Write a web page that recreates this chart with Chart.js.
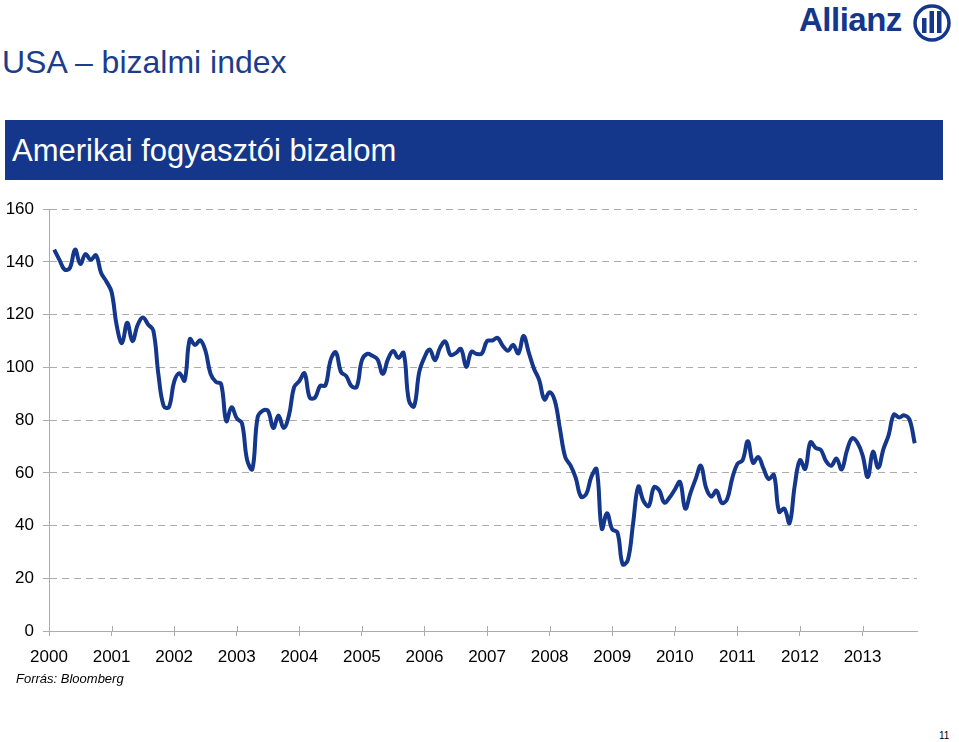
<!DOCTYPE html>
<html>
<head>
<meta charset="utf-8">
<script src="https://cdn.jsdelivr.net/npm/chart.js@4/dist/chart.umd.min.js"></script>
<style>
  body { margin: 0; width: 959px; height: 742px; background: #fff; position: relative; overflow: hidden; font-family: "Liberation Sans", Arial, sans-serif; }
  .title { position: absolute; left: 2px; top: 44px; font-size: 32px; color: #1c3c8c; white-space: nowrap; }
  .banner { position: absolute; left: 5px; top: 120px; width: 938px; height: 60px; background: #14378c; }
  .banner span { position: absolute; left: 7px; top: 13px; font-size: 31px; color: #fff; white-space: nowrap; }
  .logo { position: absolute; left: 799px; top: 1px; font-size: 33px; font-weight: bold; color: #14378c; letter-spacing: -0.5px; }
  .source { position: absolute; left: 16px; top: 671px; font-size: 13px; font-style: italic; color: #000; }
  .page { position: absolute; left: 939px; top: 730px; font-size: 10px; color: #000; }
  #wrap { position: absolute; left: 0; top: 190px; width: 935px; height: 485px; }
</style>
</head>
<body>
<div class="title">USA – bizalmi index</div>
<div class="logo">Allianz</div>
<svg style="position:absolute;left:910px;top:3px" width="46" height="42">
  <circle cx="22" cy="20" r="17" fill="none" stroke="#14378c" stroke-width="3.5"/>
  <rect x="12" y="15" width="4.5" height="15" fill="#14378c"/>
  <rect x="19.5" y="8" width="4.5" height="22" fill="#14378c"/>
  <rect x="27" y="8" width="4.5" height="22" fill="#14378c"/>
</svg>
<div class="banner"><span>Amerikai fogyasztói bizalom</span></div>
<div id="wrap"><canvas id="chart"></canvas></div>
<div class="source">Forrás: Bloomberg</div>
<div class="page">11</div>

<script>
// Conference Board consumer confidence, monthly, Jan 2000 - Oct 2013
const startYear = 2000;
const conf2000 = [144.7, 140.8, 137.1, 137.7, 144.7, 139.2, 143.0, 140.8, 142.5, 135.8, 132.6, 128.6];
const conf2001 = [115.7, 109.2, 116.9, 109.9, 116.1, 118.9, 116.3, 114.0, 97.0, 85.3, 84.9, 94.6];
const conf2002 = [97.8, 95.0, 110.7, 108.5, 110.3, 106.3, 97.4, 94.5, 93.7, 79.6, 84.9, 80.7];
const conf2003 = [78.8, 64.8, 61.4, 81.0, 83.6, 83.5, 77.0, 81.7, 77.0, 81.7, 92.5, 94.8];
const conf2004 = [97.7, 88.5, 88.5, 93.0, 93.1, 102.8, 105.7, 98.2, 96.7, 92.9, 92.6, 102.7];
const conf2005 = [105.1, 104.4, 103.0, 97.5, 103.1, 106.2, 103.6, 105.5, 87.5, 85.2, 98.3, 103.8];
const conf2006 = [106.8, 102.7, 107.5, 109.8, 104.7, 105.4, 107.0, 100.2, 105.9, 105.1, 105.3, 110.0];
const conf2007 = [110.2, 111.2, 108.2, 106.3, 108.5, 105.3, 111.9, 105.6, 99.5, 95.2, 87.8, 90.6];
const conf2008 = [87.3, 76.4, 65.9, 62.8, 58.1, 51.0, 51.9, 58.5, 61.4, 38.8, 44.7, 38.6];
const conf2009 = [37.4, 25.3, 26.9, 40.8, 54.8, 49.3, 47.4, 54.5, 53.4, 48.7, 50.6, 53.6];
const conf2010 = [56.5, 46.4, 52.3, 57.7, 62.7, 54.3, 51.0, 53.2, 48.6, 49.9, 57.8, 63.4];
const conf2011 = [64.8, 72.0, 63.8, 66.0, 61.7, 57.6, 59.2, 45.2, 46.4, 40.9, 55.2, 64.8];
const conf2012 = [61.5, 71.6, 69.5, 68.7, 64.4, 62.7, 65.4, 61.3, 68.4, 73.1, 71.5, 66.7];
const conf2013 = [58.4, 68.0, 61.9, 69.0, 74.3, 82.1, 81.0, 81.8, 80.2, 71.2];

const yearLabels = ['2000', '2001', '2002', '2003', '2004', '2005', '2006', '2007',
  '2008', '2009', '2010', '2011', '2012', '2013'];
const yTicks = [0, 20, 40, 60, 80, 100, 120, 140, 160];

const allValues = [].concat(conf2000, conf2001, conf2002, conf2003, conf2004, conf2005,
  conf2006, conf2007, conf2008, conf2009, conf2010, conf2011, conf2012, conf2013);

// month-end dates as fractional years
const points = allValues.map((v, i) => ({ x: startYear + (i + 1) / 12, y: v }));

const navy = '#14378c';
const gridGray = '#ababab';

// year tick marks also reach a little above the axis line, like the original
const crossTicks = {
  id: 'crossTicks',
  afterDraw(chart) {
    const xs = chart.scales.x;
    const ctx = chart.ctx;
    ctx.save();
    ctx.strokeStyle = gridGray;
    ctx.lineWidth = 1;
    xs.ticks.forEach(t => {
      const px = Math.round(xs.getPixelForValue(t.value)) + 0.5;
      ctx.beginPath();
      ctx.moveTo(px, xs.top - 5);
      ctx.lineTo(px, xs.top);
      ctx.stroke();
    });
    ctx.restore();
  }
};

new Chart(document.getElementById('chart'), {
  type: 'line',
  data: {
    datasets: [{
      label: 'Fogyasztói bizalom',
      data: points,
      borderColor: navy,
      borderWidth: 4,
      pointRadius: 0,
      tension: 0.4,
      fill: false
    }]
  },
  options: {
    responsive: true,
    maintainAspectRatio: false,
    animation: false,
    layout: { padding: { top: 19, right: 18, left: 0, bottom: 0 } },
    plugins: {
      legend: { display: false },
      tooltip: { enabled: false }
    },
    scales: {
      x: {
        type: 'linear',
        min: startYear,
        max: 2013.87,
        afterFit: (scale) => { scale.height = 44; },
        afterBuildTicks: (scale) => {
          scale.ticks = yearLabels.map(l => ({ value: Number(l) }));
        },
        ticks: {
          includeBounds: false,
          stepSize: 1,
          autoSkip: false,
          maxRotation: 0,
          padding: 11,
          color: '#000',
          font: { family: '"Liberation Sans", Arial, sans-serif', size: 17 },
          callback: (v) => String(v)
        },
        grid: {
          drawOnChartArea: false,
          drawTicks: true,
          tickLength: 5,
          tickColor: gridGray
        },
        border: { color: gridGray, width: 1 }
      },
      y: {
        min: 0,
        max: 160,
        afterFit: (scale) => { scale.width = 49; },
        afterBuildTicks: (scale) => {
          scale.ticks = yTicks.map(v => ({ value: v }));
        },
        ticks: {
          padding: 9,
          color: '#000',
          font: { family: '"Liberation Sans", Arial, sans-serif', size: 17 }
        },
        grid: {
          color: (ctx) => (ctx.tick && ctx.tick.value === 0) ? 'rgba(0,0,0,0)' : gridGray,
          tickColor: gridGray,
          tickLength: 6,
          lineWidth: 1
        },
        border: { color: gridGray, width: 1, dash: [7, 5] }
      }
    }
  },
  plugins: [crossTicks]
});
</script>
</body>
</html>
